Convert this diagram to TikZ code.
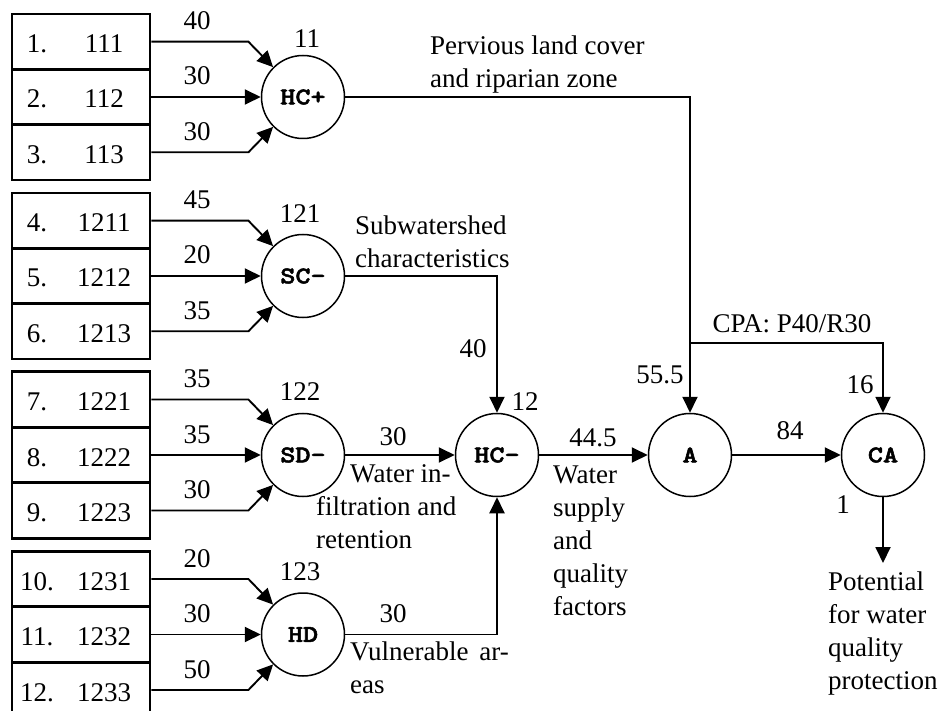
\documentclass[tikz,border=0pt]{standalone}
\usepackage{fontspec}
\usepackage{graphicx}
\setmainfont{Liberation Serif}
\newfontfamily\blkfont{lmmonolt10-bold.otf}[FakeBold=2]
\usetikzlibrary{arrows.meta}

% left-aligned block of lines whose baseline is the first line's baseline
\newcommand\leftlines[1]{\vtop{\halign{##\hfil\cr#1\crcr}}}
% widened bold typewriter label for the aggregation nodes
\newcommand\blklabel[1]{\scalebox{1.2}[1]{#1}}

\tikzset{
  txt/.style={font=\fontsize{27}{33}\selectfont, inner sep=0pt},
  lbl/.style={txt, anchor=base},
  para/.style={txt, anchor=base west},
  rowbox/.style={draw, line width=2.8pt, minimum width=138pt, minimum height=55.4pt, inner sep=0pt},
  blk/.style={circle, draw, line width=1.5pt, minimum size=83pt, inner sep=0pt,
              font=\fontsize{24}{24}\selectfont\blkfont},
  wire/.style={line width=1.9pt},
  flow/.style={wire, -{Triangle[length=16pt,width=15pt]}},
}

\begin{document}
\begin{tikzpicture}[x=1pt,y=-1pt]
\useasboundingbox (0,0) rectangle (940,711);
\clip (0,0) rectangle (940,711);

% indicator boxes
\foreach \i/\y/\c in {1/41.7/111,2/97/112,3/152.3/113,
                      4/220.7/1211,5/276/1212,6/331.3/1213,
                      7/399.5/1221,8/455/1222,9/510.5/1223,
                      10/579/1231,11/634.5/1232,12/690/1233}{
  \node[rowbox] (r\i) at (81,\y) {};
  \node[lbl] (n\i) at (37,{\y+11}) {\i.};
  \node[lbl] (c\i) at (104,{\y+11}) {\c};
}

% aggregation nodes
\node[blk] (hcp) at (303,97)    {\blklabel{HC+}};
\node[blk] (scm) at (303,276)   {\blklabel{SC-}};
\node[blk] (sdm) at (303,455)   {\blklabel{SD-}};
\node[blk] (hd)  at (303,634.5) {\blklabel{HD}};
\node[blk] (hcm) at (497,455)   {\blklabel{HC-}};
\node[blk] (a)   at (690,455)   {\blklabel{A}};
\node[blk] (ca)  at (883,455)   {\blklabel{CA}};

% node codes
\node[lbl] (k11)  at (307,48)  {11};
\node[lbl] (k121) at (300,223) {121};
\node[lbl] (k122) at (300,400) {122};
\node[lbl] (k123) at (300,580) {123};
\node[lbl] (k12)  at (525,410) {12};
\node[lbl] (k1)   at (843,513) {1};

% inputs from the indicator boxes
\draw[flow] (r1.east) -- ++(97,0) -- (hcp.135);
\draw[flow] (r2.east) -- (hcp.west);
\draw[flow] (r3.east) -- ++(97,0) -- (hcp.225);
\draw[flow] (r4.east) -- ++(97,0) -- (scm.135);
\draw[flow] (r5.east) -- (scm.west);
\draw[flow] (r6.east) -- ++(97,0) -- (scm.225);
\draw[flow] (r7.east) -- ++(97,0) -- (sdm.135);
\draw[flow] (r8.east) -- (sdm.west);
\draw[flow] (r9.east) -- ++(97,0) -- (sdm.225);
\draw[flow] (r10.east) -- ++(97,0) -- (hd.135);
\draw[flow] (r11.east) -- (hd.west);
\draw[flow] (r12.east) -- ++(97,0) -- (hd.225);

% weights of the inputs
\foreach \w/\y [count=\j] in {40/41.7,30/97,30/152.3,45/220.7,20/276,35/331.3,
                              35/399.5,35/455,30/510.5,20/579,30/634.5,50/690}{
  \node[lbl] (w\j) at (197,{\y-12}) {\w};
}

% connections between aggregation nodes
\draw[flow] (hcp.east) -- (hcp.east -| a.north) -- (a.north);
\draw[flow] (scm.east) -- (scm.east -| hcm.north) -- (hcm.north);
\draw[flow] (sdm.east) -- (hcm.west);
\draw[flow] (hd.east) -- (hd.east -| hcm.south) -- (hcm.south);
\draw[flow] (hcm.east) -- (a.west);
\draw[flow] (a.east) -- (ca.west);
\coordinate (cpa) at (690,343);
\draw[flow] (cpa) -- (cpa -| ca.north) -- (ca.north);
\coordinate (res) at (883,563);
\draw[flow] (ca.south) -- (res);

% weights on the connections
\node[lbl] (w40)  at (473,357) {40};
\node[lbl] (w30a) at (393,445) {30};
\node[lbl] (w30b) at (393,622) {30};
\node[lbl] (w445) at (593,446) {44.5};
\node[lbl] (w555) at (660,383) {55.5};
\node[lbl] (w84)  at (790,439) {84};
\node[lbl] (w16)  at (860,393) {16};
\node[lbl] (wcpa) at (792,333) {CPA: P40/R30};

% descriptions
\node[para] (d1) at (430,55)  {\leftlines{Pervious land cover\cr and riparian zone}};
\node[para] (d2) at (355,235) {\leftlines{Subwatershed\cr characteristics}};
\node[para] (d3) at (316,482) {\leftlines{\hspace{34pt}Water in-\cr filtration and\cr retention}};
\node[para] (d4) at (350,660) {\leftlines{Vulnerable\hspace{4pt} ar-\cr eas}};
\node[para] (d5) at (553,483) {\leftlines{Water\cr supply\cr and\cr quality\cr factors}};
\node[para] (d6) at (828,590) {\leftlines{Potential\cr for water\cr quality\cr protection}};
\end{tikzpicture}
\end{document}
